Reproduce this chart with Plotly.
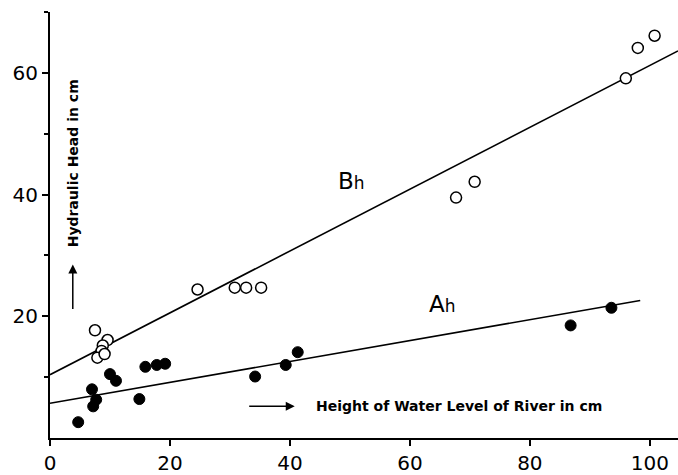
import plotly.graph_objects as go

# Open circles (B_h)
b_x = [7.5, 9.6, 8.8, 8.6, 7.9, 9.1, 24.6, 30.8, 32.7, 35.2, 67.7, 70.8, 96.0, 98.0, 100.8]
b_y = [17.7, 16.1, 15.2, 14.3, 13.2, 13.8, 24.4, 24.7, 24.7, 24.7, 39.5, 42.1, 59.1, 64.1, 66.1]
# Filled circles (A_h)
a_x = [4.7, 7.0, 7.7, 7.2, 10.0, 11.0, 14.9, 15.9, 17.8, 19.2, 34.2, 39.3, 41.3, 86.8, 93.6]
a_y = [2.6, 8.0, 6.3, 5.2, 10.5, 9.4, 6.4, 11.7, 12.0, 12.2, 10.1, 12.0, 14.1, 18.5, 21.4]
# Fitted lines
b_line_x = [0, 104.7]
b_line_y = [10.4, 63.6]
a_line_x = [0, 98.4]
a_line_y = [5.7, 22.6]

x_ticks = [0, 20, 40, 60, 80, 100]
y_ticks = [20, 40, 60]
y_minor = [10, 30, 50, 70]

FONT = "DejaVu Sans"

fig = go.Figure()
fig.add_trace(go.Scatter(x=b_line_x, y=b_line_y, mode="lines",
                         line=dict(color="black", width=1.6), cliponaxis=False))
fig.add_trace(go.Scatter(x=a_line_x, y=a_line_y, mode="lines",
                         line=dict(color="black", width=1.6), cliponaxis=False))
fig.add_trace(go.Scatter(x=b_x, y=b_y, mode="markers", cliponaxis=False,
                         marker=dict(symbol="circle", size=11, color="white",
                                     line=dict(color="black", width=1.5))))
fig.add_trace(go.Scatter(x=a_x, y=a_y, mode="markers", cliponaxis=False,
                         marker=dict(symbol="circle", size=11, color="black",
                                     line=dict(color="black", width=1))))

fig.add_annotation(x=50.3, y=42.3, text="B<span style='font-size:17px'>h</span>",
                   showarrow=False, font=dict(family=FONT, size=23, color="black"))
fig.add_annotation(x=65.5, y=22.1, text="A<span style='font-size:17px'>h</span>",
                   showarrow=False, font=dict(family=FONT, size=23, color="black"))

# y-axis label with arrow
fig.add_annotation(x=3.8, y=45.1, text="<b>Hydraulic Head in cm</b>", textangle=-90,
                   showarrow=False, font=dict(family=FONT, size=14, color="black"))
fig.add_annotation(x=3.8, y=28.5, ax=0, ay=46, text="", showarrow=True,
                   arrowhead=2, arrowsize=1.2, arrowwidth=1.5, arrowcolor="black")
# x-axis label with arrow
fig.add_annotation(x=44.0, y=5.2, text="<b>Height of Water Level of River in cm</b>",
                   xanchor="left", showarrow=False,
                   font=dict(family=FONT, size=14, color="black"))
fig.add_annotation(x=40.8, y=5.2, ax=-47, ay=0, text="", showarrow=True,
                   arrowhead=2, arrowsize=1.2, arrowwidth=1.5, arrowcolor="black")

fig.update_layout(
    width=678, height=475,
    margin=dict(l=50, r=0, t=12, b=33),
    paper_bgcolor="white", plot_bgcolor="white",
    showlegend=False,
    font=dict(family=FONT, size=20, color="black"),
    xaxis=dict(range=[0, 104.7], tickvals=x_ticks, showline=True, linecolor="black",
               linewidth=2, ticks="outside", ticklen=6, tickwidth=1.5, tickcolor="black",
               showgrid=False, zeroline=False),
    yaxis=dict(range=[0, 70], tickvals=y_ticks, showline=True, linecolor="black",
               linewidth=2, ticks="outside", ticklen=6, tickwidth=1.5, tickcolor="black",
               showgrid=False, zeroline=False,
               minor=dict(tickvals=y_minor, ticks="outside", ticklen=4, tickcolor="black")),
)

fig.write_html("out.html")
